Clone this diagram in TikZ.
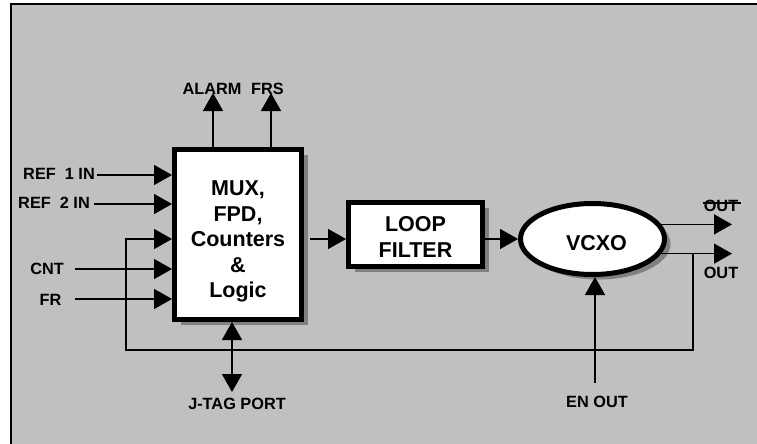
\documentclass[tikz,border=0pt]{standalone}
\usepackage{fontspec}
\setmainfont{Liberation Sans}
\usetikzlibrary{arrows.meta,shapes.geometric,shadows}
\definecolor{bggray}{HTML}{C0C0C0}
\definecolor{shadowgray}{HTML}{808080}
\tikzset{
  blk/.style={draw=black, fill=white, line width=5pt, inner sep=0pt,
    drop shadow={shadow xshift=6pt, shadow yshift=-5pt, fill=shadowgray, opacity=1}},
  boxtext/.style={font=\fontsize{21.5}{25.5}\selectfont\bfseries, align=center, inner sep=0pt},
  lbl/.style={font=\fontsize{16.3}{19}\selectfont\bfseries, inner sep=0pt},
  wire/.style={line width=1.5pt},
  arr/.style={wire, -{Triangle[length=18pt,width=20pt]}},
  darr/.style={wire, {Triangle[length=18pt,width=20pt]}-{Triangle[length=18pt,width=20pt]}}
}
\begin{document}
\begin{tikzpicture}[x=1pt,y=-1pt]
\useasboundingbox (0,0) rectangle (757,444);
% background frame
\fill[bggray] (11,4) rectangle (757,444);
\draw[line width=2pt] (11,444) -- (11,4) -- (757,4);

% blocks
\node[blk, rectangle, minimum width=127pt, minimum height=170pt] (mux) at (238,234.5) {};
\node[boxtext] (muxt) at ([yshift=-7pt]mux.center) {MUX,\\FPD,\\Counters\\\&\\Logic};
\node[blk, rectangle, minimum width=134pt, minimum height=64pt] (loop) at (415.5,234.5) {};
\node[boxtext] (loopt) at ([yshift=-2.5pt]loop.center) {LOOP\\FILTER};
\node[blk, ellipse, minimum width=144pt, minimum height=71pt] (vcxo) at (592.5,239) {};
\node[boxtext] (vcxot) at ([xshift=4pt,yshift=-4pt]vcxo.center) {VCXO};

% labels
\node[lbl, anchor=east] (ref1) at (95,174) {REF\ \ 1 IN};
\node[lbl, anchor=east] (ref2) at (90,203) {REF\ \ 2 IN};
\node[lbl] (cnt) at (47,269) {CNT};
\node[lbl] (fr) at (50.5,300) {FR};
\node[lbl] (alarm) at (212,89) {ALARM};
\node[lbl] (frs) at (267.5,89) {FRS};
\node[lbl] (jtag) at (237,404) {J-TAG PORT};
\node[lbl] (enout) at (597,402) {EN OUT};
\node[lbl] (outbar) at (721,206) {OUT};
\node[lbl] (out) at (721,273) {OUT};
\draw[line width=1.2pt] ([xshift=-1pt,yshift=-3pt]outbar.north west) -- ([xshift=3pt,yshift=-3pt]outbar.north east);

% coordinates
\coordinate (ay) at (0,239);
\coordinate (cntS) at (75,269);
\coordinate (frS) at (75,299);
\coordinate (alT) at (213,93);
\coordinate (frsT) at (271,93);
\coordinate (jt) at (232,392);
\coordinate (en1) at (595,383);
\coordinate (o1) at (732,225);
\coordinate (o2) at (732,254);
\coordinate (fbR) at (693,254);
\coordinate (fb1) at (693,350);
\coordinate (fb2) at (126,350);
\coordinate (fb3) at (126,239);

% inputs
\draw[arr] ([xshift=2pt,yshift=-1pt]ref1.east) -- ([yshift=-1pt]ref1.east -| mux.west);
\draw[arr] ([xshift=4pt,yshift=-1pt]ref2.east) -- ([yshift=-1pt]ref2.east -| mux.west);
\draw[arr] (cntS) -- (cntS -| mux.west);
\draw[arr] (frS) -- (frS -| mux.west);
\draw[arr] (fbR) -- (fb1) -- (fb2) -- (fb3) -- (fb3 -| mux.west);

% outputs up
\draw[arr] (alT |- mux.north) -- (alT);
\draw[arr] (frsT |- mux.north) -- (frsT);
\draw[darr] (jt |- mux.south) -- (jt);

% chain
\draw[arr] ([xshift=6pt]mux.east |- ay) -- (loop.west |- ay);
\draw[arr] (loop.east |- ay) -- (vcxo.west);
\draw[arr] (vcxo.12) -- (vcxo.12 -| o1);
\draw[arr] (vcxo.-12.7) -- (vcxo.-12.7 -| o2);
\draw[arr] (en1) -- (en1 |- vcxo.south);
\end{tikzpicture}
\end{document}
